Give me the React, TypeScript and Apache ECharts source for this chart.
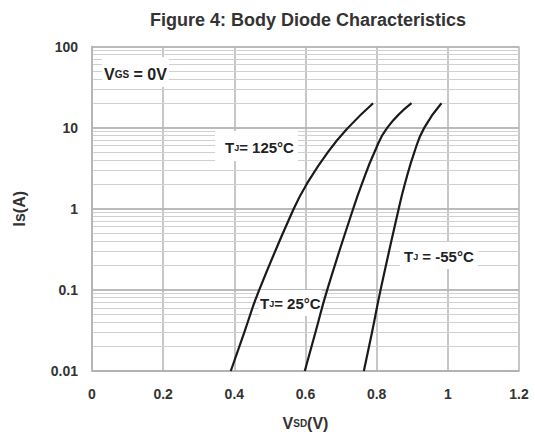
import React, { useEffect, useRef } from "react";
import * as echarts from "echarts";

// Forward current levels (A) shared by the three curves
const currentLevels = [0.01, 0.03, 0.1, 1, 2, 5, 10, 20];
// Source-drain voltage (V) at each current level
const vsd125 = [0.39, 0.428, 0.47, 0.567, 0.603, 0.663, 0.72, 0.79];
const vsd25 = [0.598, 0.628, 0.661, 0.734, 0.758, 0.794, 0.83, 0.898];
const vsdM55 = [0.764, 0.787, 0.811, 0.862, 0.879, 0.906, 0.934, 0.982];

const xTickLabels = ["0", "0.2", "0.4", "0.6", "0.8", "1", "1.2"];
const yTickLabels = ["0.01", "0.1", "1", "10", "100"];
const decadeStarts = [0.01, 0.1, 1, 10];
const minorMultipliers = [2, 3, 4, 5, 6, 7, 8, 9];

const FONT = '"Liberation Sans", Arial, Helvetica, sans-serif';
const TXT = "#222";

function pairs(xs: number[], ys: number[]) {
  return xs.map((x, i) => [x, ys[i]]);
}

export default function App() {
  const ref = useRef<HTMLDivElement>(null);
  useEffect(() => {
    if (!ref.current) return;
    const chart = echarts.init(ref.current, null, { renderer: "svg" });
    const minorVals: number[] = [];
    decadeStarts.forEach((d) => minorMultipliers.forEach((m) => minorVals.push(+(d * m).toPrecision(3))));

    const curveStyle = { color: "#1a1a1a", width: 2.2 };
    // rich tokens are bottom-aligned: a shorter line box drops the subscript below the baseline
    const mkRich = (big: number, small: number, color: string, key: string) => ({
      n: { fontSize: big, fontWeight: "bold", fontFamily: FONT, [key]: color, lineHeight: big + 10 },
      s: { fontSize: small, fontWeight: "bold", fontFamily: FONT, [key]: color, lineHeight: big },
    });
    const rich = mkRich(15, 9, TXT, "fill");
    const richBig = mkRich(16, 10, TXT, "fill");

    chart.setOption({
      animation: false,
      backgroundColor: "#fff",
      grid: { left: 92, right: 16, top: 46.5, bottom: 64, containLabel: false, outerBoundsMode: "none" },
      xAxis: {
        type: "value",
        min: 0,
        max: 1.2,
        interval: 0.2,
        axisLine: { show: true, lineStyle: { color: "#b0b0b0", width: 1.5 } },
        axisTick: { show: false },
        splitLine: { show: true, lineStyle: { color: "#b4b4b4", width: 1.5 } },
        axisLabel: {
          margin: 16,
          color: "#333",
          fontSize: 14,
          fontWeight: "bold",
          fontFamily: FONT,
          formatter: (v: number) => xTickLabels[Math.round(v / 0.2)],
        },
        name: "{n|V}{s|SD}{n|(V)}",
        nameLocation: "middle",
        nameGap: 39,
        nameTextStyle: { rich: mkRich(16, 10, "#333", "color") },
      },
      yAxis: {
        type: "log",
        logBase: 10,
        min: 0.01,
        max: 100,
        axisLine: { show: true, lineStyle: { color: "#b0b0b0", width: 1.5 } },
        axisTick: { show: false },
        splitLine: { show: true, lineStyle: { color: "#a4a4a4", width: 1.5 } },
        axisLabel: {
          margin: 14,
          color: "#333",
          fontSize: 14,
          fontWeight: "bold",
          fontFamily: FONT,
          formatter: (v: number) => yTickLabels[Math.round(Math.log10(v)) + 2],
        },
        name: "Is(A)",
        nameLocation: "middle",
        nameRotate: 90,
        nameGap: 65,
        nameTextStyle: { fontSize: 16, fontWeight: "bold", fontFamily: FONT, color: "#333" },
      },
      series: [
        {
          type: "line",
          z: 0,
          data: [],
          silent: true,
          markLine: {
            z: 0,
            silent: true,
            symbol: ["none", "none"],
            label: { show: false },
            lineStyle: { color: "#d0d0d0", width: 1, type: "solid" },
            data: minorVals.map((v) => ({ yAxis: v })),
          },
        },
        { name: "125", type: "line", z: 3, data: pairs(vsd125, currentLevels), smooth: 0.5, symbol: "none", lineStyle: curveStyle },
        { name: "25", type: "line", z: 3, data: pairs(vsd25, currentLevels), smooth: 0.5, symbol: "none", lineStyle: curveStyle },
        { name: "-55", type: "line", z: 3, data: pairs(vsdM55, currentLevels), smooth: 0.5, symbol: "none", lineStyle: curveStyle },
      ],
      graphic: [
        {
          type: "text",
          x: 308,
          y: 20,
          z: 5,
          style: {
            text: "Figure 4: Body Diode Characteristics",
            font: `bold 18px ${FONT}`,
            fill: "#333",
            align: "center",
            verticalAlign: "middle",
          },
        },
        {
          type: "text",
          x: 102,
          y: 57,
          z: 1,
          style: {
            text: "{n|V}{s|GS}{n| = 0V}",
            rich: richBig,
            backgroundColor: "#fff",
            padding: [4, 2, 0, 2],
          },
        },
        {
          type: "text",
          x: 215,
          y: 131,
          z: 1,
          style: {
            text: "{n|T}{s|J}{n|= 125°C}",
            rich,
            backgroundColor: "#fff",
            padding: [4, 4, 1, 10],
          },
        },
        {
          type: "text",
          x: 400,
          y: 242,
          z: 1,
          style: {
            text: "{n|T}{s|J}{n| = -55°C}",
            rich,
            backgroundColor: "#fff",
            padding: [2, 4, 0, 4],
          },
        },
        {
          type: "text",
          x: 259,
          y: 290,
          z: 1,
          style: {
            text: "{n|T}{s|J}{n|= 25°C}",
            rich,
            backgroundColor: "#fff",
            padding: [1, 1, 0, 1],
          },
        },
      ],
    });
    return () => chart.dispose();
  }, []);
  return (
    <div
      ref={ref}
      style={{ position: "fixed", left: 0, top: 0, width: 535, height: 435, background: "#fff" }}
    />
  );
}
